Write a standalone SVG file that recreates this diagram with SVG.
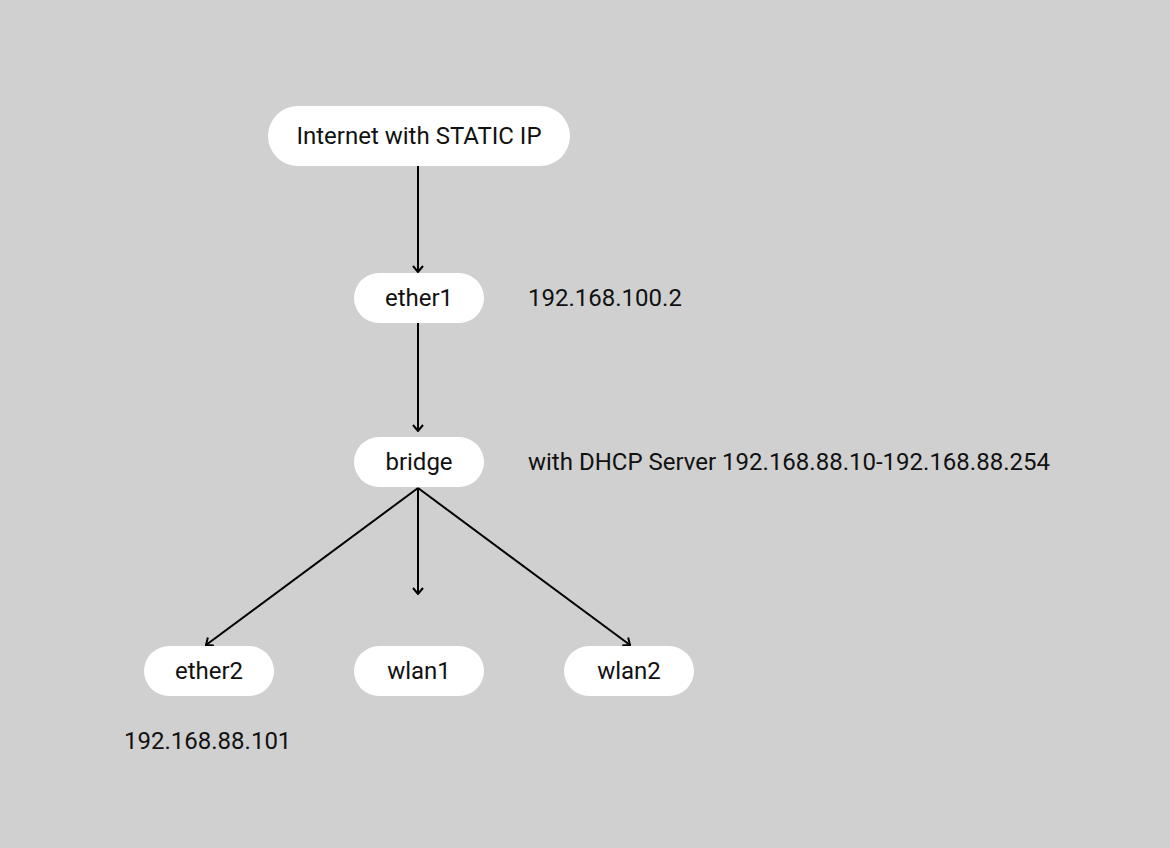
<svg xmlns="http://www.w3.org/2000/svg" width="1170" height="848" viewBox="0 0 1170 848">
<style>
.n{fill:#fff}
.t{font-family:Roboto,"Liberation Sans",sans-serif;font-size:24px;fill:#111}
.c{text-anchor:middle}
.e{stroke:#000;stroke-width:2;fill:none}
</style>
<defs>
<marker id="a" viewBox="0 0 12 12" refX="11" refY="6" markerWidth="12" markerHeight="12" markerUnits="userSpaceOnUse" orient="auto">
<path d="M5,1 L11,6 L5,11" fill="none" stroke="#000" stroke-width="2"/>
</marker>
</defs>
<rect width="1170" height="848" fill="#d0d0d0"/>
<g id="connectors">
<line class="e" x1="418" y1="166" x2="418" y2="272" marker-end="url(#a)"/>
<line class="e" x1="418" y1="323" x2="418" y2="431" marker-end="url(#a)"/>
<line class="e" x1="418" y1="488" x2="418" y2="594" marker-end="url(#a)"/>
<line class="e" x1="418" y1="488" x2="206" y2="645" marker-end="url(#a)"/>
<line class="e" x1="418" y1="488" x2="630" y2="645" marker-end="url(#a)"/>
</g>
<g id="internet"><rect class="n" x="268" y="106" width="302" height="60" rx="30"/><text class="t c" x="419" y="144">Internet with STATIC IP</text></g>
<g id="ether1"><rect class="n" x="354" y="273" width="130" height="50" rx="25"/><text class="t c" x="419" y="306">ether1</text></g>
<g id="bridge"><rect class="n" x="354" y="437" width="130" height="50" rx="25"/><text class="t c" x="419" y="470">bridge</text></g>
<g id="ether2"><rect class="n" x="144" y="646" width="130" height="50" rx="25"/><text class="t c" x="209" y="679">ether2</text></g>
<g id="wlan1"><rect class="n" x="354" y="646" width="130" height="50" rx="25"/><text class="t c" x="419" y="679">wlan1</text></g>
<g id="wlan2"><rect class="n" x="564" y="646" width="130" height="50" rx="25"/><text class="t c" x="629" y="679">wlan2</text></g>
<g id="labels">
<text class="t" x="528" y="306">192.168.100.2</text>
<text class="t" x="528" y="470">with DHCP Server 192.168.88.10-192.168.88.254</text>
<text class="t" x="124" y="749">192.168.88.101</text>
</g>
</svg>
